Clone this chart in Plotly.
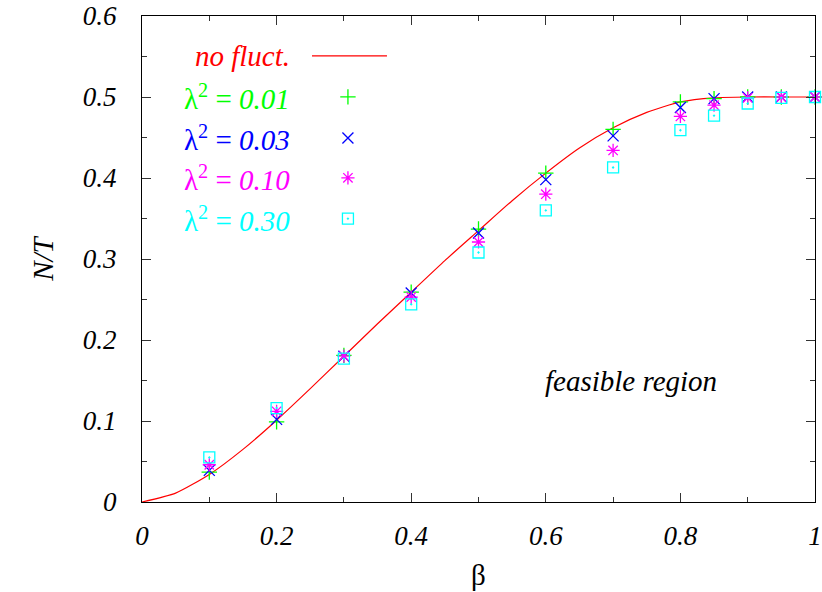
import plotly.graph_objects as go

# --- data ---
beta_curve = [0, 0.05, 0.1, 0.15, 0.2, 0.25, 0.3, 0.35, 0.4, 0.45, 0.5, 0.55,
              0.6, 0.65, 0.7, 0.75, 0.8, 0.85, 0.9, 0.95, 1.0]
nt_curve = [0, 0.011, 0.034, 0.065, 0.101, 0.14, 0.18, 0.22, 0.259, 0.298, 0.335,
            0.372, 0.406, 0.437, 0.462, 0.481, 0.494, 0.499, 0.5, 0.5, 0.5]

beta_pts = [0.1, 0.2, 0.3, 0.4, 0.5, 0.6, 0.7, 0.8, 0.85, 0.9, 0.95, 1.0]
nt_001 = [0.037, 0.099, 0.181, 0.259, 0.337, 0.406, 0.460, 0.494, 0.498, 0.500, 0.500, 0.500]
nt_003 = [0.039, 0.102, 0.180, 0.258, 0.332, 0.398, 0.452, 0.487, 0.498, 0.500, 0.500, 0.500]
nt_010 = [0.046, 0.112, 0.180, 0.253, 0.321, 0.380, 0.434, 0.476, 0.490, 0.499, 0.500, 0.500]
nt_030 = [0.055, 0.116, 0.177, 0.244, 0.308, 0.360, 0.413, 0.459, 0.477, 0.492, 0.499, 0.500]

x_tickvals = [0, 0.2, 0.4, 0.6, 0.8, 1.0]
x_ticktext = ["0", "0.2", "0.4", "0.6", "0.8", "1"]
y_tickvals = [0, 0.1, 0.2, 0.3, 0.4, 0.5, 0.6]
y_ticktext = ["0", "0.1", "0.2", "0.3", "0.4", "0.5", "0.6"]

series = [
    ("0.01", nt_001, "#00ff00", "cross-thin"),
    ("0.03", nt_003, "#0000ff", "x-thin"),
    ("0.10", nt_010, "#ff00ff", "asterisk"),
    ("0.30", nt_030, "#00ffff", "square-open-dot"),
]

SERIF = "Liberation Serif, Times New Roman, DejaVu Serif, serif"
FS_TICK = 27
FS_TXT = 29

fig = go.Figure()

fig.add_trace(go.Scatter(x=beta_curve, y=nt_curve, mode="lines",
                         line=dict(color="#ff0000", width=1.2, shape="spline", smoothing=0.6),
                         showlegend=False, hoverinfo="skip", cliponaxis=False))

for lab, vals, col, sym in series:
    fig.add_trace(go.Scatter(x=beta_pts, y=vals, mode="markers", cliponaxis=False,
                             marker=dict(symbol=sym, size=11, color=col,
                                         line=dict(color=col, width=1.3)),
                             showlegend=False))

# --- hand-made legend (text on the left, key on the right) ---
leg_rows_y = [0.918, 0.8335, 0.749, 0.667, 0.583]
key_x = 0.306
line_x0, line_x1 = 0.2526, 0.364
text_x = 0.2229

fig.add_trace(go.Scatter(x=[line_x0, line_x1], y=[leg_rows_y[0]] * 2, mode="lines",
                         line=dict(color="#ff0000", width=1.2),
                         xaxis="x2", yaxis="y2", showlegend=False, hoverinfo="skip"))
fig.add_annotation(x=text_x, y=leg_rows_y[0], xref="paper", yref="paper",
                   text="<i>no fluct.</i>", showarrow=False, xanchor="right", yanchor="middle",
                   font=dict(family=SERIF, size=FS_TXT, color="#ff0000"))

for (lab, vals, col, sym), ry in zip(series, leg_rows_y[1:]):
    fig.add_trace(go.Scatter(x=[key_x], y=[ry], mode="markers",
                             marker=dict(symbol=sym, size=11, color=col,
                                         line=dict(color=col, width=1.3)),
                             xaxis="x2", yaxis="y2", showlegend=False, hoverinfo="skip"))
    fig.add_annotation(x=text_x, y=ry, xref="paper", yref="paper",
                       text=f"λ<sup>2</sup> = <i>{lab}</i>", showarrow=False,
                       xanchor="right", yanchor="middle",
                       font=dict(family=SERIF, size=FS_TXT, color=col))

fig.add_annotation(x=0.727, y=0.248, xref="paper", yref="paper", text="<i>feasible region</i>",
                   showarrow=False, xanchor="center", yanchor="middle",
                   font=dict(family=SERIF, size=FS_TXT, color="black"))

axis_common = dict(showgrid=False, zeroline=False, showline=True, linecolor="black",
                   linewidth=1, mirror="ticks", ticks="inside", ticklen=9, tickwidth=1,
                   tickcolor="#333333", automargin=False, ticklabeloverflow="allow",
                   tickfont=dict(family=SERIF, size=FS_TICK, color="black", style="italic"))

fig.update_layout(
    width=822, height=592,
    margin=dict(l=142, r=7, t=16, b=90),
    paper_bgcolor="white", plot_bgcolor="white",
    font=dict(family=SERIF),
    xaxis=dict(range=[0, 1], tickvals=x_tickvals, ticktext=x_ticktext,
               minor=dict(dtick=0.1, ticks="inside", ticklen=5, tickcolor="#333333"),
               ticklabelstandoff=10,
               title=dict(text="β", font=dict(family=SERIF, size=FS_TXT, color="black"), standoff=14),
               **axis_common),
    yaxis=dict(range=[0, 0.6], tickvals=y_tickvals, ticktext=y_ticktext,
               minor=dict(dtick=0.05, ticks="inside", ticklen=5, tickcolor="#333333"),
               ticklabelstandoff=19,
               title=dict(text="<i>N/T</i>", font=dict(family=SERIF, size=FS_TXT, color="black"), standoff=20),
               **axis_common),
    xaxis2=dict(range=[0, 1], overlaying="x", visible=False, fixedrange=True),
    yaxis2=dict(range=[0, 1], overlaying="y", visible=False, fixedrange=True),
)

fig.write_html("out.html", config={"displayModeBar": False},
               post_script="document.body.style.margin='0';")
